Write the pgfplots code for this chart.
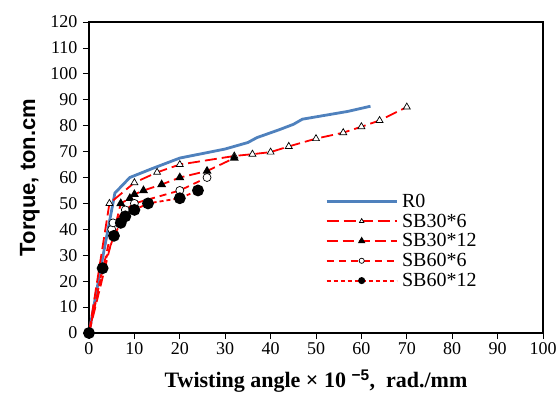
\documentclass[border=0pt]{standalone}
\usepackage{pgfplots}
\pgfplotsset{compat=1.18}
\usepackage{fontspec}
\setmainfont{Liberation Serif}
\newfontfamily\arialfont{Liberation Sans}
\definecolor{rzero}{RGB}{79,129,189}

\pgfplotsset{
  longleg/.style={
    legend image code/.code={%
      \draw[mark repeat=2,mark phase=2,##1,mark size=2.6pt]
        plot coordinates {(0pt,0pt) (35pt,0pt) (70pt,0pt)};%
    }
  }
}

\begin{document}
\begin{tikzpicture}
  \begin{axis}[
      width=454pt, height=311pt, scale only axis,
      xmin=0, xmax=100, ymin=0, ymax=120,
      xtick={0,10,...,100}, ytick={0,10,...,120},
      tick align=outside, tick pos=left, major tick length=6pt,
      axis line style={line width=1.5pt},
      tick style={black, line width=0.8pt},
      ticklabel style={font=\fontsize{18}{18}\selectfont},
      yticklabel style={xshift=-2pt},
      /pgf/number format/assume math mode=true,
      xlabel={\textbf{Twisting angle × 10 \textsuperscript{\arialfont −5},\ \ rad./mm}},
      ylabel={\arialfont\bfseries Torque, ton.cm},
      label style={font=\fontsize{22}{22}\selectfont},
      xlabel style={yshift=-8pt},
      ylabel style={yshift=4pt},
      longleg,
      legend cell align=left,
      legend style={at={(axis cs:52,35.5)}, anchor=west, draw=none, fill=none,
        font=\fontsize{20}{20}\selectfont, row sep=1pt, inner sep=0pt,
        nodes={inner xsep=4pt}},
    ]
    % R0
    \addplot[color=rzero, line width=2.8pt, no marks] coordinates {
      (0,0) (3,29) (5.7,54) (9,60) (14,63.5) (20,67.5) (30,71) (35,73.5)
      (37,75.4) (42,78.5) (45,80.5) (47,82.5) (52,84) (57,85.5) (62,87.5)
    };
    % SB30*6
    \addplot[color=red, line width=1.8pt, dash pattern=on 12pt off 5pt,
      mark=triangle*, mark size=4pt, mark options={solid, fill=white, draw=black, line width=0.7pt}] coordinates {
      (0,0) (4.5,50) (10,58) (15,62) (20,65) (32,68.3) (36,69) (40,69.8)
      (44,72) (50,75) (56,77.3) (60,79.6) (64,82) (70,87.2)
    };
    % SB30*12
    \addplot[color=red, line width=1.8pt, dash pattern=on 11pt off 5pt,
      mark=triangle*, mark size=3.4pt, mark options={solid, fill=black, draw=black}] coordinates {
      (0,0) (7,50) (9,52) (10,53.5) (12,55) (16,57.3) (20,60) (26,62.5) (32,67.5)
    };
    % SB60*6
    \addplot[color=red, line width=1.8pt, dash pattern=on 7pt off 5pt,
      mark=*, mark size=4pt, mark options={solid, fill=white, draw=black, line width=0.7pt}] coordinates {
      (0,0) (5,40) (5.3,42.5) (8,47.5) (10,50) (20,55) (26,60)
    };
    % SB60*12
    \addplot[color=red, line width=1.8pt, dash pattern=on 4pt off 3pt,
      mark=*, mark size=5pt, mark options={solid, fill=black, draw=black}] coordinates {
      (0,0) (3,25) (5.5,37.5) (7,42.5) (8,45) (10,47.5) (13,50) (20,52) (24,55)
    };
    \legend{R0, SB30*6, SB30*12, SB60*6, SB60*12}
  \end{axis}
  \path (current axis.south west) ++(-89pt,-72pt) rectangle ++(560pt,405pt);
\end{tikzpicture}
\end{document}
